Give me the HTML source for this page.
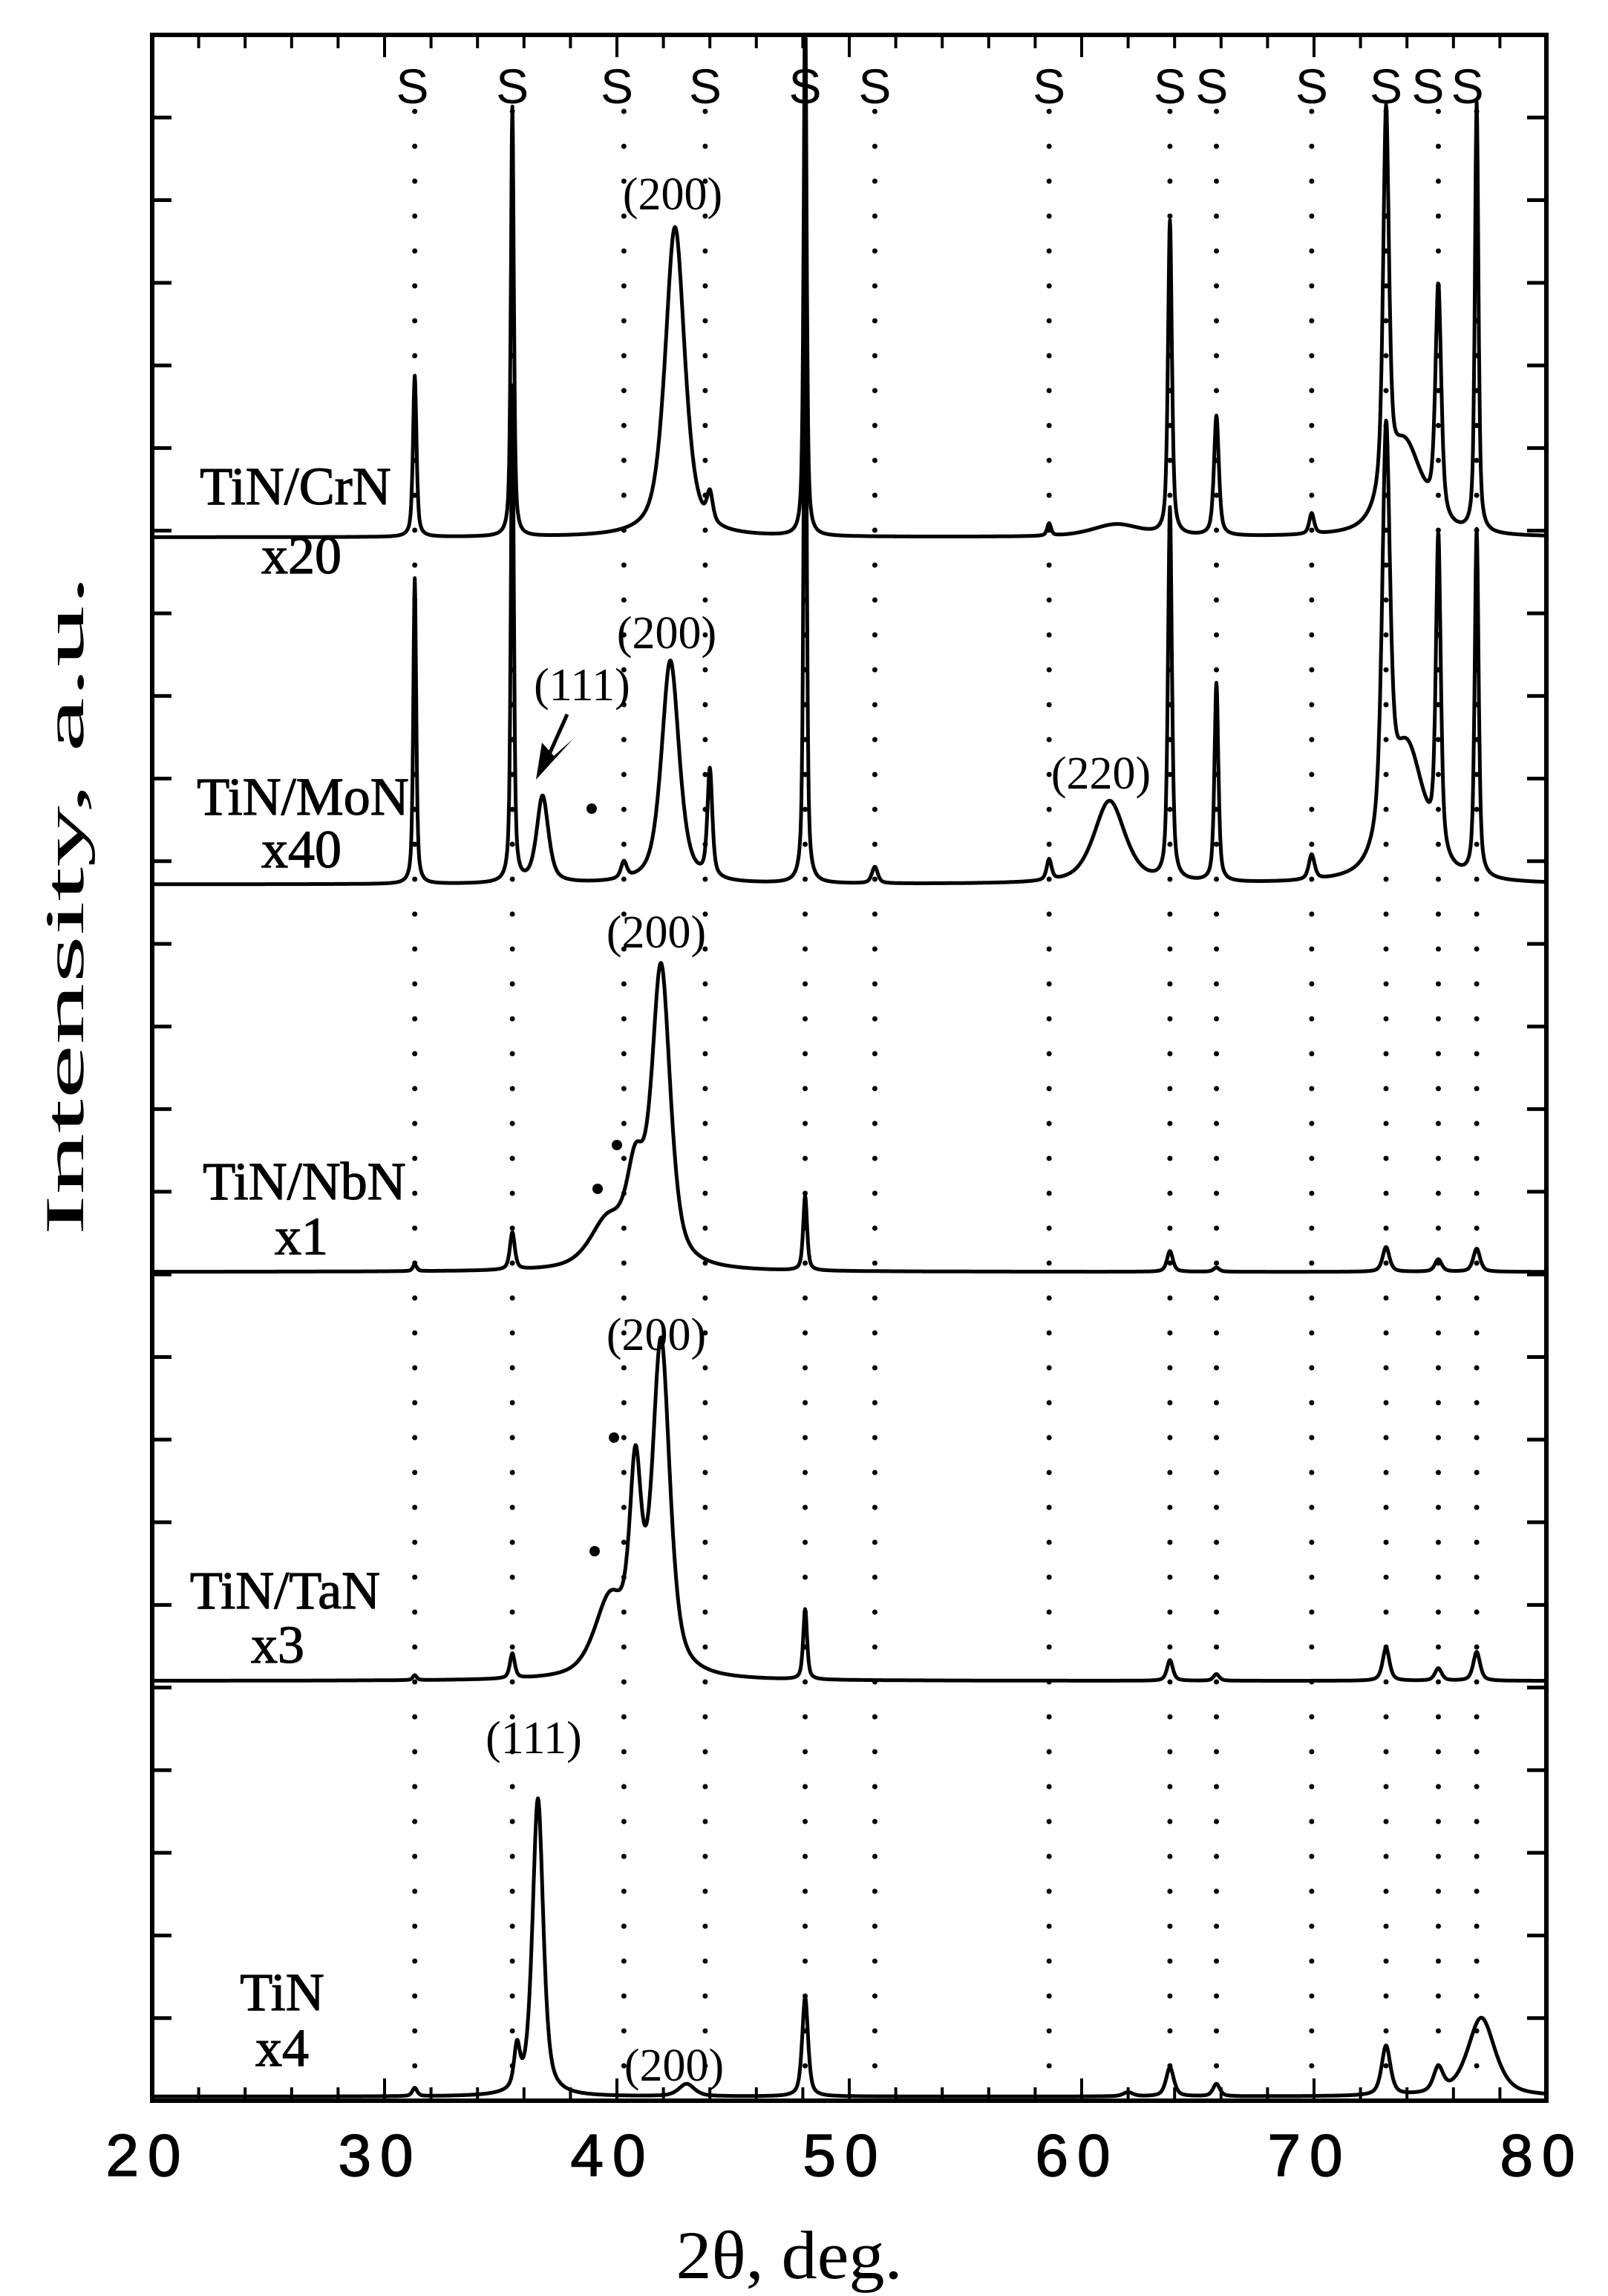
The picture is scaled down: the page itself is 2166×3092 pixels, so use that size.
<!DOCTYPE html>
<html><head><meta charset="utf-8"><style>
html,body{margin:0;padding:0;background:#fff;}
svg{display:block;}
.serif{font-family:"Liberation Serif",serif;fill:#000;}
.sans{font-family:"Liberation Sans",sans-serif;fill:#000;}
</style></head><body>
<svg id="chart" xmlns="http://www.w3.org/2000/svg" width="2166" height="3092" viewBox="0 0 2166 3092">
<defs><clipPath id="plotclip"><rect x="205" y="47" width="1878" height="2782"/></clipPath></defs>
<g id="grid"></g>
<g id="series" clip-path="url(#plotclip)"></g>
<g id="axes"></g>
<g id="labels"></g>
</svg>
<script>
// ---- data ----
const xTicks = [20,30,40,50,60,70,80];
const subPos = [31.3,35.5,40.3,43.8,48.1,51.1,58.6,63.8,65.8,69.9,73.1,75.35,77.0];
const subLabelPos = [31.2,35.5,40.0,43.8,48.1,51.1,58.6,63.8,65.6,69.9,73.1,74.9,76.6];
const seriesNames = ["TiN/CrN","TiN/MoN","TiN/NbN","TiN/TaN","TiN"];
const seriesScale = ["x20","x40","x1","x3","x4"];
const seriesBase = [18.92,14.72,10.03,5.08,0.05];

const crnPos = [31.3,35.5,42.5,44.0,48.1,58.6,61.5,63.8,65.8,69.9,73.1,73.9,75.35,77.0];
const crnAmp = [1.95,5.2,3.75,0.35,6.5,0.15,0.15,3.8,1.45,0.25,4.6,1.1,2.8,5.2];
const crnWid = [0.18,0.15,1.0,0.3,0.15,0.2,2.5,0.2,0.25,0.25,0.3,1.8,0.3,0.18];

const monPos = [31.3,35.5,36.8,40.3,42.3,44.0,48.1,51.1,58.6,61.2,63.8,65.8,69.9,73.1,74.0,75.35,77.0];
const monAmp = [3.7,6.0,1.05,0.2,2.7,1.3,8,0.2,0.25,1.0,4.5,2.4,0.3,4.8,1.6,3.8,4.2];
const monWid = [0.15,0.15,0.6,0.3,0.9,0.25,0.15,0.3,0.25,1.6,0.2,0.2,0.3,0.4,1.8,0.25,0.2];

const nbnPos = [31.3,35.5,39.6,40.8,41.9,48.1,63.8,65.8,73.1,75.35,77.0];
const nbnAmp = [0.08,0.45,0.55,1.0,3.6,0.9,0.25,0.05,0.3,0.15,0.28];
const nbnWid = [0.2,0.25,1.8,0.9,0.95,0.2,0.3,0.3,0.35,0.35,0.35];

const tanPos = [31.3,35.5,39.7,40.8,41.9,48.1,63.8,65.8,73.1,75.35,77.0];
const tanAmp = [0.06,0.3,0.9,2.2,4.0,0.85,0.25,0.08,0.4,0.15,0.35];
const tanWid = [0.2,0.25,1.6,0.6,0.9,0.2,0.3,0.3,0.35,0.35,0.35];

const tinPos = [31.3,35.7,36.6,43.0,48.1,62.0,63.8,65.8,73.1,75.35,77.2];
const tinAmp = [0.1,0.5,3.6,0.15,1.2,0.05,0.35,0.15,0.6,0.3,0.95];
const tinWid = [0.25,0.3,0.55,0.8,0.3,0.5,0.4,0.35,0.45,0.5,1.4];

// ---- scales ----
const X0=205, X1=2083, Y0=2829, Y1=47;
function xs(v){return X0+(v-20)*(X1-X0)/60;}
function ys(u){return Y0-u*(Y0-Y1)/25;}
const NS="http://www.w3.org/2000/svg";
function mk(tag,attrs,parent){const e=document.createElementNS(NS,tag);for(const k in attrs)e.setAttribute(k,attrs[k]);parent.appendChild(e);return e;}
function txt(parent,x,y,s,cls,size,anchor){const t=mk("text",{x:x,y:y,class:cls,"font-size":size,"text-anchor":anchor||"middle"},parent);t.textContent=s;return t;}

const gGrid=document.getElementById("grid"), gSer=document.getElementById("series"),
      gAx=document.getElementById("axes"), gLab=document.getElementById("labels");

subPos.forEach((p,i)=>{
  const l=mk("line",{x1:xs(p),x2:xs(p),y1:150,y2:Y0,stroke:"#000","stroke-width":7,"stroke-dasharray":"0 47","stroke-linecap":"round"},gGrid);
  
  
});
subLabelPos.forEach((p,i)=>{
  const t=txt(gLab,xs(p),139,"S","sans",66);
  
  
});

const posList=[crnPos,monPos,nbnPos,tanPos,tinPos];
const ampList=[crnAmp,monAmp,nbnAmp,tanAmp,tinAmp];
const widList=[crnWid,monWid,nbnWid,tanWid,tinWid];
function profile(x,pos,amp,wid){
  let s=0;
  for(let i=0;i<pos.length;i++){
    const d=(x-pos[i])/(wid[i]/2);
    s+=amp[i]*(0.6/(1+d*d)+0.4*Math.exp(-0.693*d*d));
  }
  return s;
}
for(let k=0;k<5;k++){
  let d="";
  for(let x=20;x<=80.0001;x+=0.02){
    const u=seriesBase[k]+profile(x,posList[k],ampList[k],widList[k]);
    d+=(d?"L":"M")+xs(x).toFixed(1)+","+ys(u).toFixed(1);
  }
  const p=mk("path",{d:d,fill:"none",stroke:"#000","stroke-width":5,"stroke-linejoin":"round"},gSer);
  
  
}

const fr=mk("rect",{x:X0,y:Y1,width:X1-X0,height:Y0-Y1,fill:"none",stroke:"#000","stroke-width":6},gAx);


for(let v=20;v<=80;v+=2){
  const len=(v%10===0)?30:18;
  mk("line",{x1:xs(v),x2:xs(v),y1:Y0,y2:Y0-len,stroke:"#000","stroke-width":4},gAx);
  mk("line",{x1:xs(v),x2:xs(v),y1:Y1,y2:Y1+len,stroke:"#000","stroke-width":4},gAx);
}
for(let u=1;u<25;u++){
  mk("line",{x1:X0,x2:X0+26,y1:ys(u),y2:ys(u),stroke:"#000","stroke-width":5},gAx);
  mk("line",{x1:X1,x2:X1-26,y1:ys(u),y2:ys(u),stroke:"#000","stroke-width":5},gAx);
}
xTicks.forEach(v=>{
  const t=txt(gAx,xs(v)-6,2930,String(v),"sans",80);
  t.setAttribute("letter-spacing","12");
  t.setAttribute("stroke","#000");
  t.setAttribute("stroke-width","1.5");
  
  
});
const xt=txt(gAx,1063,3068,"2θ, deg.","serif",92);
xt.setAttribute("textLength","305");
xt.setAttribute("lengthAdjust","spacingAndGlyphs");


const yt=txt(gAx,0,0,"Intensity, a.u.","serif",74);
yt.setAttribute("transform","translate(112,1219) rotate(-90)");
yt.setAttribute("textLength","890");
yt.setAttribute("lengthAdjust","spacingAndGlyphs");



const nameX=[398,408,410,384,380], nameY=[679,1097,1615,2166,2707];
const scX=[406,406,406,374,380], scY=[772,1168,1689,2239,2782];
for(let k=0;k<5;k++){
  const a=txt(gLab,nameX[k],nameY[k],seriesNames[k],"serif",72);
  a.setAttribute("stroke","#000");
  a.setAttribute("stroke-width","1.2");
  
  
  const b=txt(gLab,scX[k],scY[k],seriesScale[k],"serif",72);
  b.setAttribute("stroke","#000");
  b.setAttribute("stroke-width","1.2");
  
  
}
const hklText=["(200)","(200)","(111)","(220)","(200)","(200)","(111)","(200)"];
const hklX=[906,898,784,1483,884,884,719,908];
const hklY=[282,873,943,1062,1276,1818,2361,2802];
hklText.forEach((s,i)=>{
  const t=txt(gLab,hklX[i],hklY[i],s,"serif",62);
  
  
});
const ar=mk("line",{x1:764,y1:962,x2:738,y2:1020,stroke:"#000","stroke-width":5},gLab);


const ah=mk("polygon",{points:"722,1050 730,1000 746,1018 772,995",fill:"#000"},gLab);


const dotX=[797,831,805,827,801], dotY=[1089,1542,1601,1936,2089];
dotX.forEach((x,i)=>{
  const c=mk("circle",{cx:x,cy:dotY[i],r:7,fill:"#000"},gLab);
  
  
});
</script>
</body></html>
